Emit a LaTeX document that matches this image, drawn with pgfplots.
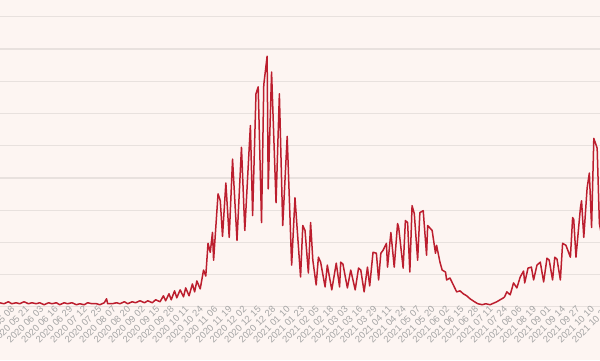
\documentclass[border=0pt]{standalone}
\usepackage{fontspec}
\setmainfont{Liberation Sans}
\usepackage{pgfplots}
\pgfplotsset{compat=1.18}
\definecolor{bgc}{RGB}{253,245,242}
\definecolor{gridc}{RGB}{232,225,222}
\definecolor{linec}{RGB}{188,30,46}
\definecolor{labc}{RGB}{165,165,165}
\begin{document}
\begin{tikzpicture}[x=1bp,y=1bp]
\fill[bgc] (0,0) rectangle (600,360);
\begin{scope}
\clip (0,0) rectangle (600,360);
\begin{axis}[
  at={(0bp,53.3bp)}, anchor=south west, scale only axis,
  width=616.1bp, height=306.7bp,
  xmin=-12.556, xmax=540, ymin=0, ymax=38100,
  axis line style={draw=none}, major tick length=0pt,
  scaled y ticks=false, scaled x ticks=false,
  ytick={0,4000,...,36000}, yticklabels={},
  ymajorgrids, grid style={gridc, line width=1.2bp},
  xtick={0,13,...,533},
  xticklabels={2020 05 08,2020 05 21,2020 06 03,2020 06 16,2020 06 29,2020 07 12,2020 07 25,2020 08 07,2020 08 20,2020 09 02,2020 09 15,2020 09 28,2020 10 11,2020 10 24,2020 11 06,2020 11 19,2020 12 02,2020 12 15,2020 12 28,2021 01 10,2021 01 23,2021 02 05,2021 02 18,2021 03 03,2021 03 16,2021 03 29,2021 04 11,2021 04 24,2021 05 07,2021 05 20,2021 06 02,2021 06 15,2021 06 28,2021 07 11,2021 07 24,2021 08 06,2021 08 19,2021 09 01,2021 09 14,2021 09 27,2021 10 10,2021 10 23},
  xticklabel style={rotate=45, anchor=east, font=\fontsize{9.5}{10}\selectfont, text=labc, inner sep=1.5pt},
]
\addplot[linec, line width=1.5bp, line join=round] coordinates {
(-13,492)(-9,369)(-5,615)(-2,369)(2,492)(5,369)(9,615)(13,369)(16,492)(20,369)(23,492)(27,246)(31,492)(34,369)(38,492)(41,246)(45,492)(48,369)(52,492)(56,246)(59,369)(63,246)(66,492)(70,369)(74,369)(77,246)(81,492)(83,984)(84,369)(88,369)(92,492)(95,369)(99,615)(102,369)(106,615)(109,492)(113,738)(117,492)(120,738)(124,492)(127,861)(131,615)(134,1353)(136,738)(139,1599)(141,861)(144,1968)(146,1107)(149,2091)(152,1230)(154,2337)(157,1353)(160,2829)(162,1845)(164,3198)(167,2214)(170,4551)(172,3813)
(174,7872)(176,6765)(178,9225)(179,5781)(183,14022)(185,13161)(187,8733)(190,15375)(193,8610)(196,18327)(200,8241)(204,19803)(207,9471)(212,22509)(214,11316)(217,26445)(219,27306)(222,10455)(224,27552)(227,31119)(228,14637)(231,29151)(235,12915)(238,26445)(241,10086)(245,21156)(249,5166)(252,13530)(257,3690)(259,10086)(261,9471)(264,4182)(266,10455)(268,5781)(271,2706)(273,6150)(275,5535)(279,2460)(281,5166)(285,2091)(289,5412)(292,2460)(293,5535)(295,5289)(299,2337)(302,4551)(306,2091)(309,4797)(311,4551)(314,1845)(317,4920)(319,2583)(322,6765)(325,6642)(327,3321)(329,6642)(331,7011)(334,7872)(335,4920)(338,9225)(341,4920)(344,10332)(345,9840)(349,4797)(351,10701)(353,10455)(355,4305)(357,12546)(359,11562)(362,5781)(364,11685)(367,11931)(370,6396)(371,10086)(375,9471)(378,6642)(379,7626)(382,5535)(384,4551)(387,4305)(388,3321)(391,3567)(394,2706)(397,1845)(400,1968)(403,1599)(406,1353)(409,984)(413,615)(416,369)(420,246)(423,369)(427,246)(431,492)(433,615)(436,861)(439,1107)(440,1230)(442,1845)(445,1476)(448,2952)(451,2337)(454,3690)(457,4428)(458,2952)(461,4797)(464,4920)(466,3321)(469,5166)(472,5535)(475,3075)(478,6027)(480,5781)(483,3321)(485,6150)(487,5904)(490,3321)(492,7872)(495,7626)(499,6150)(501,11070)(502,10824)(504,6150)(508,12300)(509,13161)(511,8610)(514,14760)(516,16605)(518,9840)(520,20910)(523,19680)(525,10332)(527,8856)
};
\end{axis}
\end{scope}
\pgfresetboundingbox
\path[use as bounding box] (0,0) rectangle (600,360);
\end{tikzpicture}
\end{document}
